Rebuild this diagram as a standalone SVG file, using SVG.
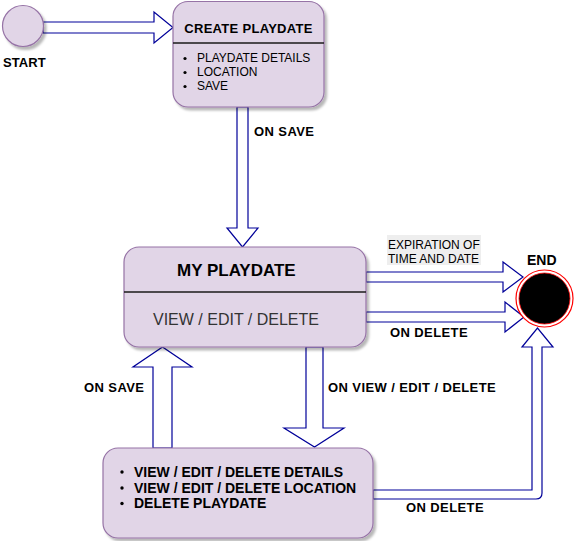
<svg xmlns="http://www.w3.org/2000/svg" width="576" height="541" viewBox="0 0 576 541">
<defs>
<filter id="sh" x="-10%" y="-10%" width="130%" height="130%">
<feDropShadow dx="2.5" dy="3" stdDeviation="0.8" flood-color="#000" flood-opacity="0.28"/>
</filter>
</defs>
<style>
.box{fill:#e1d5e7;stroke:#9673a6;stroke-width:1.2;filter:url(#sh)}
.div{stroke:#1a1a1a;stroke-width:1.6}
.arr{fill:#ffffff;stroke:#000099;stroke-width:1.2;stroke-linejoin:miter}
.lbl{font-family:"Liberation Sans",Arial,sans-serif;font-weight:bold;font-size:13px;letter-spacing:0.4px;fill:#000}
.norm{font-family:"Liberation Sans",Arial,sans-serif;font-size:12px;fill:#000}
.bul{fill:#000}
</style>
<rect width="576" height="541" fill="#ffffff"/>

<g id="connectors">
<polygon class="arr" points="43,22 154,22 154,12 173,27.5 154,43 154,33 43,33"/>
<polygon class="arr" points="237,107 248,107 248,228 258,228 242.5,247 227,228 237,228"/>
<polygon class="arr" points="366,272 503,272 503,262 523,277 503,292 503,282 366,282"/>
<polygon class="arr" points="366,312 505,312 505,302 524,317 505,332 505,322 366,322"/>
<polygon class="arr" points="153,448 153,367 133,367 162.5,347 192,367 172,367 172,448"/>
<polygon class="arr" points="306,347 323,347 323,428 344,428 314.5,447 284,428 306,428"/>
<path class="arr" d="M373,490 L532,490 L532,347 L522,347 L537.5,328 L553,347 L542,347 L542,493 Q542,499 536,499 L373,499 Z"/>
<text class="lbl" x="254" y="136">ON SAVE</text>
<rect x="387" y="235" width="94" height="30" fill="#eeeeee"/>
<text class="norm" x="388" y="248.5">EXPIRATION OF</text>
<text class="norm" x="388" y="262.5">TIME AND DATE</text>
<text class="lbl" x="390" y="337">ON DELETE</text>
<text class="lbl" x="84" y="392">ON SAVE</text>
<text class="lbl" x="328" y="392">ON VIEW / EDIT / DELETE</text>
<text class="lbl" x="406" y="512">ON DELETE</text>
</g>

<g id="start">
<circle cx="23" cy="26" r="20.5" fill="#e1d5e7" stroke="#9673a6" stroke-width="1.2" filter="url(#sh)"/>
<text class="lbl" x="3" y="66.7" style="letter-spacing:0.1px">START</text>
</g>

<g id="create-playdate">
<rect class="box" x="173" y="1.5" width="151" height="105.5" rx="15" ry="15"/>
<line class="div" x1="173" y1="43" x2="324" y2="43"/>
<text class="lbl" x="248.5" y="33" text-anchor="middle" style="font-size:13px;letter-spacing:0.3px">CREATE PLAYDATE</text>
<circle class="bul" cx="185" cy="58.5" r="1.6"/>
<circle class="bul" cx="185" cy="72.5" r="1.6"/>
<circle class="bul" cx="185" cy="86.5" r="1.6"/>
<text class="norm" x="197" y="62.3">PLAYDATE DETAILS</text>
<text class="norm" x="197" y="76.3">LOCATION</text>
<text class="norm" x="197" y="90.3">SAVE</text>
</g>

<g id="my-playdate">
<rect class="box" x="124" y="247" width="242" height="100" rx="15" ry="15"/>
<line class="div" x1="124" y1="292" x2="366" y2="292"/>
<text x="177" y="275.7" style="font-family:'Liberation Sans',Arial,sans-serif;font-weight:bold;font-size:17px;fill:#000">MY PLAYDATE</text>
<text x="153" y="325" style="font-family:'Liberation Sans',Arial,sans-serif;font-size:16px;fill:#333333">VIEW / EDIT / DELETE</text>
</g>

<g id="details">
<rect class="box" x="103" y="448" width="270" height="90" rx="15" ry="15"/>
<circle class="bul" cx="122" cy="472" r="1.7"/>
<circle class="bul" cx="122" cy="488" r="1.7"/>
<circle class="bul" cx="122" cy="503.5" r="1.7"/>
<text class="lbl" x="134" y="476.7" style="font-size:14px;letter-spacing:0px">VIEW / EDIT / DELETE DETAILS</text>
<text class="lbl" x="134" y="492.7" style="font-size:14px;letter-spacing:0px">VIEW / EDIT / DELETE LOCATION</text>
<text class="lbl" x="134" y="508.3" style="font-size:14px;letter-spacing:0px">DELETE PLAYDATE</text>
</g>

<g id="end">
<circle cx="544.5" cy="298.5" r="28.5" fill="#ffffff" stroke="#ff0000" stroke-width="1.2"/>
<circle cx="544.5" cy="298.5" r="25.5" fill="#000000" stroke="#ff0000" stroke-width="0.8"/>
<text class="lbl" x="527" y="264.5" style="font-size:14px;letter-spacing:0px">END</text>
</g>
</svg>
